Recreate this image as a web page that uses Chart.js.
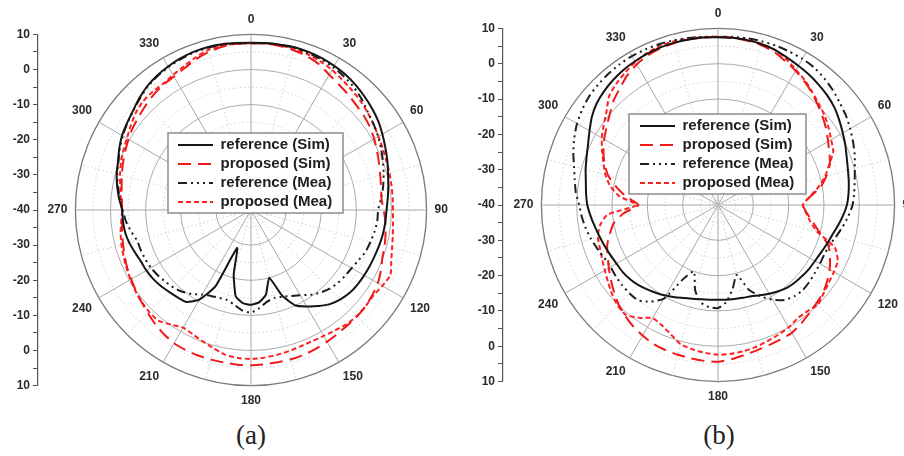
<!DOCTYPE html>
<html>
<head>
<meta charset="utf-8">
<script src="https://cdn.jsdelivr.net/npm/chart.js@4.4.1/dist/chart.umd.min.js"></script>
<style>
html, body { margin:0; padding:0; background:#fff; width:904px; height:456px; overflow:hidden; }
#wrap { position:relative; width:904px; height:456px; overflow:hidden; }
canvas { position:absolute; }
.cap { position:absolute; font-family:"Liberation Serif","Times New Roman",serif; font-size:27px; color:#222; transform:translateX(-50%); line-height:31px; }
</style>
</head>
<body>
<div id="wrap">
  <canvas id="axA" width="60" height="420" style="left:0px;top:0px;width:60px;height:420px"></canvas>
  <canvas id="polA" width="470" height="420" style="left:0px;top:0px;width:470px;height:420px"></canvas>
  <canvas id="axB" width="60" height="420" style="left:452px;top:0px;width:60px;height:420px"></canvas>
  <canvas id="polB" width="470" height="420" style="left:452px;top:0px;width:470px;height:420px"></canvas>
  <div class="cap" style="left:251px;top:420px">(a)</div>
  <div class="cap" style="left:719px;top:420px">(b)</div>
</div>
<script>
// ---------- data ----------
const ANGLES = [0,5,10,15,20,25,30,35,40,45,50,55,60,65,70,75,80,85,90,95,100,105,110,115,120,125,130,135,140,145,150,155,160,165,170,175,180,185,190,195,200,205,210,215,220,225,230,235,240,245,250,255,260,265,270,275,280,285,290,295,300,305,310,315,320,325,330,335,340,345,350,355];
const ANGLE_LABELS = [0,30,60,90,120,150,180,210,240,270,300,330];
const AXIS_TICKS = ['10','0','-10','-20','-30','-40','-30','-20','-10','0','10'];
const SERIES_NAMES = ['reference (Sim)','proposed (Sim)','reference (Mea)','proposed (Mea)'];

// panel (a)
const A_REF_SIM = [7.6,7.7,7.8,8.0,7.9,7.7,7.4,7.0,6.4,5.7, 5.0,4.2,3.2,2.2,1.3,0.4,-0.3,-0.9,-1.4,-1.6, -1.8,-2.1,-2.4,-2.6,-2.8,-3.0,-3.3,-4.0,-5.0,-6.6, -8.3,-10.0,-14.0,-20.0,-15.5,-13.6,-13.0,-13.4,-15.0,-21.0, -28.5,-16.0,-10.5,-8.0,-7.5,-7.0,-6.4,-5.9,-5.6,-5.4, -4.8,-4.1,-3.6,-3.4,-3.3,-2.3,-1.3,-0.4,0.3,1.4, 2.4,3.1,3.9,5.0,6.0,6.7,7.2,7.6,7.9,8.0, 7.9,7.7];
const A_PROP_SIM = [7.5,7.6,7.4,7.1,6.6,5.8,4.5,3.6,3.0,2.3, 1.9,1.3,0.5,-0.4,-1.2,-1.9,-2.4,-2.7,-2.2,-1.6, -1.1,-0.6,-0.2,0.8,1.7,2.2,2.6,2.8,2.8,3.0, 3.3,3.6,3.9,4.0,4.0,4.1,4.2,4.2,4.1,4.1, 4.1,4.0,3.8,3.2,2.4,1.5,0.7,0.0,-0.6,-1.1, -1.7,-2.3,-2.7,-3.2,-3.3,-3.1,-2.6,-1.9,-1.2,-0.5, 0.3,1.0,1.6,2.3,3.0,3.5,3.9,4.6,5.7,6.6, 7.2,7.5];
const A_REF_MEA = [7.5,7.6,7.7,7.8,7.6,7.3,6.9,6.3,5.6,4.6, 3.4,2.6,1.8,0.9,0.0,-0.9,-1.8,-2.8,-3.8,-3.9, -4.3,-4.8,-5.3,-6.2,-6.9,-7.3,-7.7,-8.3,-9.3,-10.5, -12.0,-13.0,-13.7,-14.1,-13.5,-12.0,-10.8,-11.3,-12.6,-13.5, -13.4,-13.0,-12.2,-10.8,-9.6,-8.8,-8.2,-7.6,-7.1,-6.8, -6.6,-6.4,-5.3,-4.2,-3.5,-2.5,-1.5,-0.6,0.2,1.2, 2.2,3.0,3.8,4.8,5.8,6.5,7.0,7.4,7.7,7.8, 7.7,7.6];
const A_PROP_MEA = [7.5,7.6,7.6,7.5,7.2,6.7,6.1,5.3,4.6,4.0, 3.3,2.6,1.9,1.4,1.0,0.8,0.6,0.5,0.4,0.6, 1.0,1.6,2.5,3.8,3.2,2.5,2.6,2.7,2.4,1.8, 1.4,1.2,1.3,1.6,1.9,2.2,2.4,2.3,1.9,0.8, -0.1,-0.9,-1.3,-0.2,1.1,1.0,0.7,0.2,-0.4,-0.9, -1.4,-1.8,-2.3,-2.9,-3.3,-2.8,-2.2,-1.4,-0.6,0.1, 0.8,1.8,2.9,3.6,3.8,3.8,4.4,5.2,6.2,7.2, 7.5,7.5];

// panel (b)
const B_REF_SIM = [7.5,7.5,7.4,7.2,6.8,6.1,5.5,5.0,4.4,3.8, 3.0,1.9,0.8,-0.2,-1.2,-1.9,-2.4,-2.9,-3.5,-4.5, -5.6,-6.6,-7.3,-7.9,-8.3,-8.5,-8.8,-9.1,-9.5,-10.2, -11.0,-11.8,-12.5,-12.8,-13.0,-13.1,-13.2,-13.1,-12.9,-12.5, -12.0,-11.2,-10.4,-9.6,-8.8,-8.0,-7.4,-7.0,-6.8,-6.4, -5.9,-5.3,-4.6,-3.8,-3.0,-2.5,-2.0,-1.2,-0.4,0.6, 2.0,3.6,4.8,5.6,6.2,6.7,7.0,7.3,7.5,7.6, 7.6,7.6];
const B_PROP_SIM = [7.6,7.5,7.3,6.9,6.2,5.0,3.9,2.7,1.4,0.0, -1.3,-2.6,-4.0,-5.2,-6.3,-8.2,-10.5,-13.9,-15.9,-14.8, -12.8,-10.3,-6.8,-5.0,-3.5,-2.3,-1.2,-0.6,0.1,1.0, 1.8,2.0,2.2,2.6,3.1,3.8,4.4,4.3,4.1,3.9, 3.7,3.4,2.7,1.9,0.9,-0.2,-1.6,-3.0,-4.3,-5.6, -6.6,-8.3,-10.0,-13.2,-17.5,-14.0,-10.8,-7.8,-5.8,-4.2, -2.8,-1.5,0.0,1.8,3.2,4.8,6.0,6.8,7.3,7.5, 7.6,7.6];
const B_REF_MEA = [7.6,7.8,7.9,8.0,8.0,7.9,7.8,7.5,6.8,6.0, 5.0,4.2,3.2,2.2,1.2,0.1,-0.7,-1.3,-1.9,-3.0, -4.2,-5.4,-6.5,-6.8,-6.7,-6.5,-6.2,-6.0,-6.3,-7.2, -9.0,-11.5,-14.5,-19.5,-16.0,-12.5,-10.8,-11.0,-12.0,-15.0, -20.0,-17.0,-9.4,-6.6,-4.8,-4.6,-4.6,-4.7,-4.9,-4.5, -3.7,-2.8,-2.0,-1.3,-0.7,0.4,1.2,2.2,3.6,4.9, 6.1,7.0,7.7,8.1,8.4,8.6,8.7,8.6,8.5,8.3, 8.0,7.8];
const B_PROP_MEA = [7.6,7.6,7.5,7.3,6.8,5.6,4.2,3.0,1.6,0.4, -0.6,-1.8,-3.0,-4.0,-6.5,-8.6,-11.2,-14.0,-16.0,-15.0, -13.5,-11.0,-4.8,-2.6,-2.1,-1.7,-1.0,-0.1,-0.7,-0.8, 0.0,0.5,1.0,1.6,2.0,2.3,2.4,2.0,1.5,0.8, -1.0,-2.4,-3.0,-1.0,0.6,0.2,-0.8,-2.0,-3.0,-3.8, -4.4,-4.8,-6.0,-8.6,-17.0,-12.0,-9.0,-7.0,-5.5,-3.8, -2.0,-0.5,1.2,3.6,4.8,5.8,6.8,7.5,8.0,8.0, 7.8,7.7];

// ---------- styling ----------
const FONT = '"Liberation Sans", Arial, Helvetica, sans-serif';
const STYLES = [
  { color: '#151515', dash: [], width: 2, tension: 0.15 },
  { color: '#ee1a1a', dash: [13, 7], width: 2, tension: 0.2 },
  { color: '#1e1e1e', dash: [9, 4, 2, 4, 2, 4, 2, 4], width: 2, tension: 0.2 },
  { color: '#ff2020', dash: [5, 3], width: 2, tension: 0.2 }
];

const legendPlacer = {
  id: 'legendPlacer',
  afterLayout(chart, args, o) {
    const lg = chart.legend;
    if (!lg) return;
    lg.left = o.x; lg.top = o.y; lg.right = o.x + 240; lg.bottom = o.y + 140;
  },
  afterDatasetsDraw(chart, args, o) {
    const c = chart.ctx;
    c.save();
    c.fillStyle = '#ffffff';
    c.fillRect(o.bx, o.by, o.bw, o.bh);
    c.strokeStyle = '#8c8c8c';
    c.lineWidth = 1.5;
    c.setLineDash([]);
    c.strokeRect(o.bx, o.by, o.bw, o.bh);
    c.restore();
    chart.legend.draw();
  }
};

function makePolar(id, series, padding, place) {
  const datasets = series.map((vals, k) => ({
    label: SERIES_NAMES[k],
    data: vals,
    borderColor: STYLES[k].color,
    backgroundColor: 'rgba(0,0,0,0)',
    borderWidth: STYLES[k].width,
    borderDash: STYLES[k].dash,
    tension: STYLES[k].tension,
    fill: false,
    pointRadius: 0,
    pointHoverRadius: 0,
    pointHitRadius: 0
  }));
  return new Chart(document.getElementById(id), {
    type: 'radar',
    data: { labels: ANGLES, datasets },
    options: {
      responsive: false,
      animation: false,
      events: [],
      layout: { padding },
      scales: {
        r: {
          min: -40, max: 10, beginAtZero: false,
          ticks: { display: false, stepSize: 5 },
          grid: {
            circular: true,
            color: (c) => {
              const v = c.tick ? c.tick.value : 0;
              if (v === 10) return '#7a7a7a';
              return (v % 10 === 0) ? '#ababab' : '#cfcfcf';
            },
            lineWidth: (c) => (c.tick && c.tick.value === 10) ? 1.3 : 1
          },
          border: { dash: (c) => (c.tick && c.tick.value % 10 !== 0) ? [1.5, 2.5] : [] },
          angleLines: {
            display: true,
            color: (c) => (c.index % 6 === 0) ? '#a8a8a8' : '#cfcfcf',
            lineWidth: (c) => (c.index % 3 === 0) ? 1 : 0,
            borderDash: (c) => (c.index % 6 === 0) ? [] : [1.5, 2.5]
          },
          pointLabels: {
            display: true,
            padding: 8,
            color: '#2a2a2a',
            font: { family: FONT, size: 12, weight: 'bold' },
            callback: (v, i) => (i % 6 === 0 ? String(ANGLE_LABELS[i / 6]) : '')
          }
        }
      },
      plugins: {
        tooltip: { enabled: false },
        legend: {
          display: true,
          position: 'chartArea',
          align: 'start',
          labels: {
            usePointStyle: true,
            pointStyle: 'line',
            pointStyleWidth: 35,
            boxWidth: 35,
            padding: 4,
            color: '#202020',
            font: { family: FONT, size: 15, weight: 'bold' },
            generateLabels: (chart) => Chart.defaults.plugins.legend.labels.generateLabels(chart).map((it) => {
              const ds = chart.data.datasets[it.datasetIndex];
              it.lineDash = ds.borderDash;
              it.lineWidth = ds.borderWidth;
              it.strokeStyle = ds.borderColor;
              it.fillStyle = ds.borderColor;
              it.pointStyle = 'line';
              return it;
            })
          }
        },
        legendPlacer: place
      }
    },
    plugins: [legendPlacer]
  });
}

function makeAxis(id, padding) {
  return new Chart(document.getElementById(id), {
    type: 'line',
    data: { labels: [], datasets: [] },
    options: {
      responsive: false,
      animation: false,
      events: [],
      layout: { padding },
      plugins: { legend: { display: false }, tooltip: { enabled: false } },
      scales: {
        x: { display: false },
        y: {
          position: 'left',
          min: -50, max: 50,
          afterFit: (s) => { s.width = 36; },
          ticks: {
            stepSize: 5, autoSkip: false, padding: 3,
            color: '#2a2a2a',
            font: { family: FONT, size: 12, weight: 'bold' },
            callback: (v, i) => (i % 2 === 0 ? AXIS_TICKS[i / 2] : '')
          },
          grid: { drawOnChartArea: false, drawTicks: true, tickLength: 5, tickColor: '#555', tickWidth: 1 },
          border: { display: true, color: '#555', width: 1.2 }
        }
      }
    }
  });
}

makeAxis('axA', { left: 2, right: 0, top: 34.4, bottom: 34.4 });
makeAxis('axB', { left: 15, right: 0, top: 28.4, bottom: 38.4 });

makePolar('polA', [A_REF_SIM, A_PROP_SIM, A_REF_MEA, A_PROP_MEA],
  { left: 38, right: 12, top: 12, bottom: 12 },
  { x: 174, y: 133.5, bx: 168, by: 133, bw: 175, bh: 80 });
makePolar('polB', [B_REF_SIM, B_PROP_SIM, B_REF_MEA, B_PROP_MEA],
  { left: 56, right: 0, top: 6, bottom: 16 },
  { x: 184, y: 114.5, bx: 177, by: 114, bw: 177, bh: 80 });
</script>
</body>
</html>
